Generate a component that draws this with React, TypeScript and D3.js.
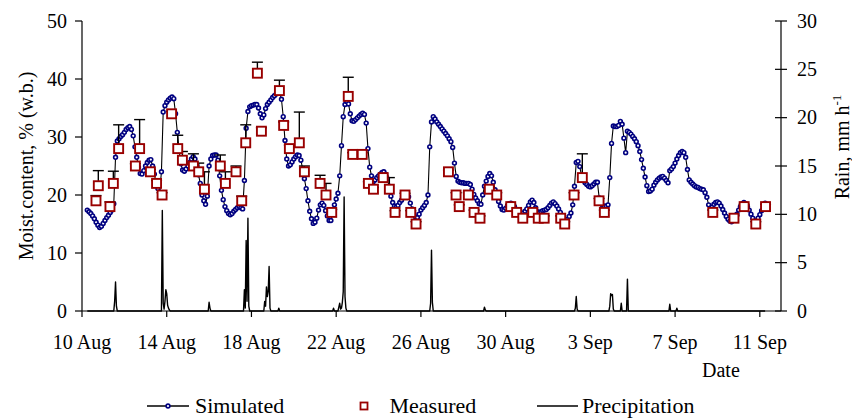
import React, { useEffect, useRef } from "react";
import * as d3 from "d3";

// Axis ticks
const tickDays = [0, 4, 8, 12, 16, 20, 24, 28, 32];
const tickLabels = ["10 Aug", "14 Aug", "18 Aug", "22 Aug", "26 Aug", "30 Aug", "3 Sep", "7 Sep", "11 Sep"];
const moistTicks = [0, 10, 20, 30, 40, 50];
const rainTicks = [0, 5, 10, 15, 20, 25, 30];

// Simulated moisture content, % w.b., every 2 h starting 10 Aug 06:00
const simFirstHour = 6;
const simStepHours = 2;
const simulated = [
  17.4, 17.1, 16.8, 16.4, 15.9, 15.3, 14.8, 14.4, 14.6,
  15.1, 15.6, 16.1, 16.5, 17.0, 17.4, 18.5, 26.5, 29.3, 29.7, 30.1, 30.4,
  30.8, 31.3, 31.6, 31.8, 31.3, 30.2, 28.3, 26.5, 24.8, 23.7, 23.6, 24.2,
  25.0, 25.6, 26.0, 26.1, 25.0, 23.6, 22.0, 21.1, 20.5, 24.0, 34.3, 35.4,
  36.0, 36.4, 36.7, 36.9, 36.6, 34.0, 30.8, 27.8, 25.4, 24.3, 24.1, 24.5,
  25.0, 25.6, 26.2, 26.6, 26.2, 25.0, 23.5, 22.0, 20.0, 19.0, 18.4, 19.8,
  25.0, 26.2, 26.8, 26.9, 26.9, 26.0, 23.3, 20.8, 19.2, 18.0, 17.3, 16.8,
  16.6, 16.8, 17.2, 17.5, 17.8, 18.0, 17.8, 17.6, 22.5, 31.5, 34.4, 35.2,
  35.4, 35.5, 35.6, 35.6, 35.0, 34.0, 33.3, 33.8, 34.9, 35.6, 36.0, 36.4,
  36.8, 37.1, 37.4, 37.6, 37.7, 36.5, 33.5, 29.4, 26.2, 25.0, 25.2, 25.7,
  26.2, 26.6, 26.9, 26.8, 26.0, 24.5, 22.8, 21.1, 19.0, 17.2, 15.9, 15.1,
  15.3, 16.0, 17.4, 18.3, 18.6, 18.2, 17.3, 16.4, 15.6, 15.6, 16.9, 18.3,
  19.3, 20.3, 23.3, 28.5, 33.5, 35.6, 36.1, 35.7, 34.0, 32.8, 32.7, 33.0,
  33.3, 33.6, 33.9, 34.1, 33.9, 32.4, 28.0, 24.8, 23.3, 22.3, 22.6, 23.0,
  23.3, 23.6, 23.9, 24.0, 23.6, 22.8, 21.5, 19.8, 18.7, 18.1, 17.9, 18.2,
  18.7, 19.1, 19.6, 20.0, 20.3, 19.7, 18.6, 17.6, 16.8, 16.2, 16.1, 16.7,
  17.4, 17.8, 18.2, 18.7, 20.0, 28.3, 32.6, 33.5, 33.1, 32.6, 32.2, 31.8,
  31.4, 31.0, 30.6, 30.2, 29.7, 29.2, 28.2, 25.5, 23.2, 22.4, 22.2, 22.1,
  22.1, 22.0, 22.0, 22.0, 21.8, 21.0, 20.1, 19.5, 19.0, 18.5, 18.4, 20.0,
  21.5, 22.4, 23.2, 23.7, 23.3, 22.2, 20.9, 19.9, 18.9, 18.1, 17.5, 17.4,
  17.7, 18.1, 18.5, 18.6, 18.4, 18.0, 17.5, 17.1, 16.8, 16.7, 16.9, 17.2,
  17.6, 18.2, 18.8, 19.1, 18.7, 17.8, 17.1, 16.9, 17.1, 17.3, 17.4, 17.5,
  17.8, 18.2, 18.6, 18.8, 18.5, 18.1, 17.6, 17.0, 16.4, 15.9, 15.7, 15.8,
  16.3, 16.9, 18.3, 21.5, 25.6, 25.8, 24.9, 23.3, 22.5, 22.1, 21.8, 21.5,
  21.4, 21.6, 21.9, 22.2, 22.2, 19.5, 18.5, 18.2, 18.0, 18.1, 18.3, 23.0,
  28.9, 31.9, 31.8, 31.8, 32.0, 32.7, 32.2, 29.8, 27.3, 31.0, 30.8, 30.5,
  30.1, 29.7, 29.2, 28.5, 27.5, 26.1, 24.6, 23.1, 21.6, 20.6, 20.7, 21.0,
  21.7, 22.2, 22.6, 22.9, 23.1, 23.2, 22.9, 22.5, 22.1, 24.2, 24.5, 24.9,
  25.5, 26.2, 26.8, 27.3, 27.5, 27.3, 26.5, 24.4, 22.6, 22.2, 21.9, 21.6,
  21.4, 21.3, 21.1, 21.0, 20.9, 20.4, 19.6, 18.3, 17.5, 17.9, 18.4, 18.7,
  18.8, 18.6, 18.1, 17.5, 16.9, 16.3, 15.8, 15.5, 15.4, 15.7, 16.1, 16.7,
  17.4, 18.0, 18.5, 18.7, 18.5, 18.0, 17.4, 16.7, 16.0, 15.5, 15.5, 16.0,
  16.6, 17.3, 18.0, 18.6,
];

// Measured moisture content (days after 10 Aug 00:00), % w.b., with upper error
const measuredDay = [
  0.66, 0.77, 1.32, 1.48, 1.73, 2.52, 2.72, 3.23, 3.52, 3.78,
  4.23, 4.52, 4.74, 5.26, 5.51, 5.78, 6.53, 6.77, 7.27, 7.54,
  7.73, 8.28, 8.47, 9.32, 9.52, 9.79, 10.26, 10.5, 11.24, 11.52,
  11.79, 12.57, 12.78, 13.23, 13.52, 13.76, 14.22, 14.51, 14.78, 15.25,
  15.52, 15.77, 17.3, 17.66, 17.81, 18.24, 18.51, 18.79, 19.23, 19.58,
  20.24, 20.52, 20.81, 21.28, 21.54, 21.82, 22.6, 22.79, 23.23, 23.62,
  24.41, 24.66, 29.78, 30.78, 31.26, 31.81, 32.27,
];
const measuredValue = [
  19, 21.6, 18, 22, 28, 25, 28, 24, 22, 20,
  34, 28, 26, 25, 24, 21, 25, 22, 24, 19,
  29, 41, 31, 38, 32, 28, 29, 24, 22, 20,
  17, 37, 27, 27, 22, 21, 23, 21, 17, 20,
  17, 15, 24, 20, 18, 20, 17, 16, 21, 20,
  18, 17, 16, 17, 16, 16, 16, 15, 20, 23,
  19, 17, 17, 16, 18, 15, 18,
];
const measuredError = [
  0.9, 2.6, 0.8, 2.1, 4.1, 0.4, 5.0, 0.4, 0.5, 0.4,
  0.4, 2.3, 1.5, 2.1, 1.5, 3.0, 1.9, 2.0, 1.0, 0.8,
  3.1, 1.9, 0.6, 1.8, 0.6, 0.6, 5.3, 1.0, 1.4, 2.0,
  0.5, 3.3, 0.3, 0.3, 0.3, 0.3, 0.3, 2.0, 0.3, 0.3,
  0.3, 0.4, 0.3, 0.4, 0.3, 0.4, 0.4, 0.4, 0.4, 0.4,
  0.4, 0.4, 0.4, 0.4, 0.4, 0.4, 0.4, 0.4, 0.4, 4.1,
  0.4, 0.4, 0.4, 0.4, 0.4, 0.4, 0.4,
];

// Precipitation, mm/h (hours after 10 Aug 00:00)
const rainHour = [
  6, 36, 37, 38, 39, 40,
  90, 91, 92, 93, 94, 95, 96, 97, 98, 99, 100,
  143, 144, 145, 146,
  183, 184, 185, 186, 187, 188, 189, 190,
  206, 207, 208, 209, 210, 211, 212, 213, 214,
  222, 223, 224,
  284, 285, 286,
  290, 291, 292, 293, 294, 295, 296, 297, 298, 299, 300,
  394, 395, 396, 397, 398,
  455, 456, 457, 458,
  558, 559, 560, 561, 562,
  597, 598, 599, 600, 601, 602, 603,
  610, 611, 612,
  617, 618, 619,
  665, 666, 667,
  673, 674, 675, 774,
];
const rainRate = [
  0, 0, 1.0, 3.0, 0.5, 0,
  0, 10.4, 0.8, 0.2, 1.0, 2.2, 1.8, 0.6, 0.3, 0.1, 0,
  0, 0.9, 0.3, 0,
  0, 2.2, 0.3, 7.3, 1.0, 9.6, 0.5, 0,
  0, 1.0, 0.5, 2.5, 1.5, 2.0, 4.6, 0.3, 0,
  0, 0.3, 0,
  0, 0.3, 0,
  0, 0.4, 0.8, 0.2, 0.3, 0.9, 2.0, 11.8, 1.5, 0.3, 0,
  0, 0.8, 6.3, 0.9, 0,
  0, 0.4, 0.1, 0,
  0, 0.3, 1.5, 0.2, 0,
  0, 0.5, 1.8, 1.6, 1.7, 0.2, 0,
  0, 0.8, 0,
  0, 3.3, 0,
  0, 0.7, 0,
  0, 0.3, 0, 0,
];

const FONT = "Liberation Serif";

export default function App() {
  const ref = useRef<SVGSVGElement>(null);

  useEffect(() => {
    const svg = d3.select(ref.current);
    svg.selectAll("*").remove();

    const left = 82, right = 781, top = 21, bottom = 311;
    const x = d3.scaleLinear().domain([0, 33]).range([left, right]);
    const yM = d3.scaleLinear().domain([0, 50]).range([bottom, top]);
    const yR = d3.scaleLinear().domain([0, 30]).range([bottom, top]);

    const label = (
      g: any, str: string, tx: number, ty: number,
      anchor: string, rot = 0, size = 20
    ) =>
      g.append("text")
        .attr("transform", `translate(${tx},${ty}) rotate(${rot})`)
        .attr("text-anchor", anchor)
        .attr("font-family", FONT)
        .attr("font-size", size)
        .attr("fill", "#000")
        .text(str);

    const axes = svg.append("g").attr("stroke", "#000").attr("stroke-width", 1.2);

    // Left axis
    axes.append("line").attr("x1", left).attr("x2", left).attr("y1", top).attr("y2", bottom);
    moistTicks.forEach((t) => {
      axes.append("line").attr("x1", left - 7).attr("x2", left).attr("y1", yM(t)).attr("y2", yM(t));
      label(svg, String(t), left - 15, yM(t) + 6.6, "end");
    });

    // Right axis
    axes.append("line").attr("x1", right).attr("x2", right).attr("y1", top).attr("y2", bottom);
    rainTicks.forEach((t) => {
      axes.append("line").attr("x1", right - 6).attr("x2", right + 6).attr("y1", yR(t)).attr("y2", yR(t));
      label(svg, String(t), right + 16, yR(t) + 6.6, "start");
    });

    // Bottom axis
    tickDays.forEach((d, i) => {
      axes.append("line").attr("x1", x(d)).attr("x2", x(d)).attr("y1", bottom).attr("y2", bottom + 6);
      label(svg, tickLabels[i], x(d), 349, "middle");
    });

    // Axis titles
    label(svg, "Date", 702, 377, "start");
    label(svg, "Moist.content, % (w.b.)", 32.5, 166, "middle", -90);
    const rainTitle = svg.append("text")
      .attr("transform", "translate(849,147) rotate(-90)")
      .attr("text-anchor", "middle")
      .attr("font-family", FONT)
      .attr("font-size", 20)
      .attr("fill", "#000");
    rainTitle.append("tspan").text("Rain, mm h");
    rainTitle.append("tspan").attr("font-size", 13).attr("dy", -8).text("-1");

    // Precipitation
    const rainPts: [number, number][] = rainHour.map((h, i) => [x(h / 24), yR(rainRate[i])]);
    svg.append("path")
      .attr("d", d3.line()(rainPts) as string)
      .attr("fill", "none")
      .attr("stroke", "#000")
      .attr("stroke-width", 1.4)
      .attr("stroke-linejoin", "round");

    axes.append("line").attr("x1", left).attr("x2", right).attr("y1", bottom).attr("y2", bottom);

    // Simulated
    const simPts: [number, number][] = simulated.map((v, i) => [
      x((simFirstHour + i * simStepHours) / 24),
      yM(v),
    ]);
    svg.append("path")
      .attr("d", d3.line()(simPts) as string)
      .attr("fill", "none")
      .attr("stroke", "#000")
      .attr("stroke-width", 1.1);
    svg.append("g").selectAll("circle").data(simPts).join("circle")
      .attr("cx", (p: [number, number]) => p[0])
      .attr("cy", (p: [number, number]) => p[1])
      .attr("r", 1.9)
      .attr("fill", "#fff")
      .attr("stroke", "#000080")
      .attr("stroke-width", 1.6);

    // Measured error bars
    const eb = svg.append("g").attr("stroke", "#000").attr("stroke-width", 1.4);
    measuredDay.forEach((d, i) => {
      const cx = x(d);
      const y0 = yM(measuredValue[i]);
      const y1 = yM(measuredValue[i] + measuredError[i]);
      eb.append("line").attr("x1", cx).attr("x2", cx).attr("y1", y0).attr("y2", y1);
      eb.append("line").attr("x1", cx - 5.5).attr("x2", cx + 5.5).attr("y1", y1).attr("y2", y1);
    });

    // Measured markers
    svg.append("g").selectAll("rect").data(measuredDay).join("rect")
      .attr("x", (d: number) => x(d) - 4.5)
      .attr("y", (_d: number, i: number) => yM(measuredValue[i]) - 4.5)
      .attr("width", 9)
      .attr("height", 9)
      .attr("fill", "#fff")
      .attr("stroke", "#990000")
      .attr("stroke-width", 1.9);

    // Legend
    const lg = svg.append("g");
    const ly = 406;
    lg.append("line").attr("x1", 147).attr("x2", 189).attr("y1", ly).attr("y2", ly)
      .attr("stroke", "#000").attr("stroke-width", 1.3);
    lg.append("circle").attr("cx", 168).attr("cy", ly).attr("r", 1.9)
      .attr("fill", "#fff").attr("stroke", "#000080").attr("stroke-width", 1.6);
    label(lg, "Simulated", 195, 413, "start", 0, 22);
    lg.append("rect").attr("x", 360.5).attr("y", ly - 3.5).attr("width", 7).attr("height", 7)
      .attr("fill", "#fff").attr("stroke", "#990000").attr("stroke-width", 1.8);
    label(lg, "Measured", 389.5, 413, "start", 0, 22);
    lg.append("line").attr("x1", 537).attr("x2", 578).attr("y1", ly).attr("y2", ly)
      .attr("stroke", "#000").attr("stroke-width", 1.6);
    label(lg, "Precipitation", 582, 413, "start", 0, 22);
  }, []);

  return (
    <svg
      ref={ref}
      width={852}
      height={418}
      style={{ position: "absolute", left: 0, top: 0, background: "#fff" }}
    />
  );
}
